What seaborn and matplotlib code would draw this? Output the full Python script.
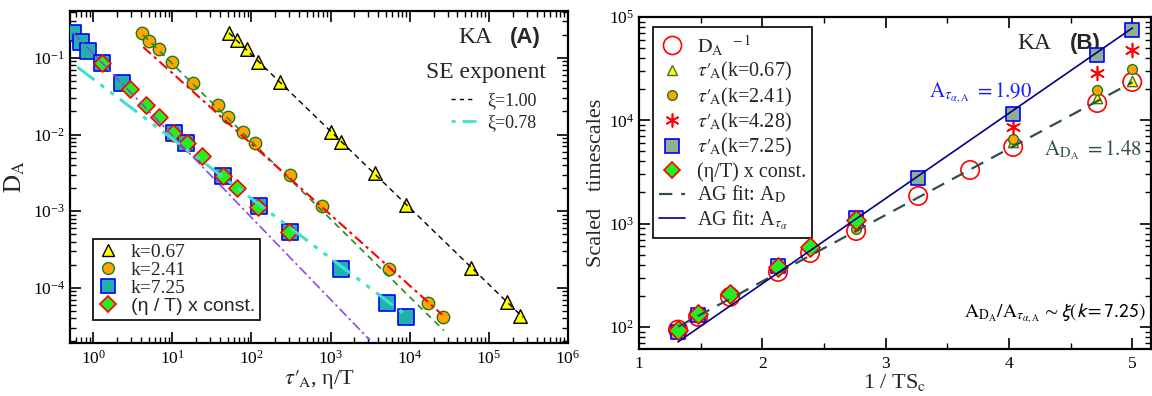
import numpy as np
import pandas as pd
import matplotlib
matplotlib.use("Agg")
import matplotlib.pyplot as plt
import seaborn as sns
from matplotlib.lines import Line2D
from matplotlib.ticker import LogLocator, MultipleLocator, NullFormatter

# ---------------- data: panel A ----------------
tri_x = [52, 65.8, 88, 121, 230, 1012, 1353, 3637, 8960, 59300, 168700, 246000]
tri_y = [0.212, 0.172, 0.131, 0.0887, 0.0487, 0.0108, 0.00803, 0.00317, 0.00121, 1.83e-4, 6.6e-5, 4.3e-5]

circ_x = [4.16, 5.1, 6.8, 9.9, 18.3, 37.9, 50.7, 78.4, 111, 307, 779, 5460, 17000, 26200]
circ_y = [0.212, 0.167, 0.131, 0.0887, 0.0472, 0.0244, 0.017, 0.0108, 0.0078, 0.00299, 0.00117, 1.77e-4, 6.4e-5, 4.2e-5]

sq_x = [0.56, 0.70, 0.865, 1.30, 2.32, 10.5, 14.9, 43.8, 125, 307, 1353, 5150, 8960]
sq_y = [0.212, 0.162, 0.123, 0.086, 0.0472, 0.0105, 0.0078, 0.0029, 0.00117, 5.4e-4, 1.77e-4, 6.4e-5, 4.2e-5]

dia_x = [1.30, 2.93, 4.67, 6.8, 10.2, 15.4, 23.8, 43.8, 65.8, 121, 298]
dia_y = [0.086, 0.0394, 0.0244, 0.017, 0.0105, 0.0078, 0.00527, 0.0029, 0.00202, 0.00114, 5.4e-4]

# power-law guide lines: (log10 prefactor, exponent, xmin, xmax)
fit_black = (1.043, -1.0, 52, 2.69e5)
fit_green = (-0.060, -1.015, 4.28, 2.7e4)
fit_red = (-0.273, -0.925, 4.28, 2.55e4)
fit_purple = (-0.943, -1.07, 0.56, 3140)
fit_cyan = (-1.275, -0.78, 0.63, 8700)

# ---------------- data: panel B ----------------
inv_x = [1.316, 1.479, 1.738, 2.127, 2.387, 2.760, 3.263, 3.684, 4.033, 4.714, 4.998]
dinv_y = [94, 125, 195, 340, 519, 847, 1850, 3300, 5520, 14700, 23500]

k067_x = [4.033, 4.714, 4.998]
k067_y = [6170, 16400, 24000]
k241_x = [2.760, 4.033, 4.714, 4.998]
k241_y = [880, 6590, 19600, 31400]
k428_x = [4.033, 4.714, 4.998]
k428_y = [8610, 28700, 48000]
k725_x = [1.316, 1.479, 2.127, 2.760, 3.263, 4.033, 4.714, 4.998]
k725_y = [89, 130, 389, 1132, 2760, 11500, 42900, 74800]
eta_x = [1.316, 1.479, 1.738, 2.127, 2.387, 2.760]
eta_y = [93, 133, 208, 380, 593, 1084]

# AG fits: log10(y) = a + A/ln(10) * x
ag_D = (1.155, 1.48)
ag_tau = (0.768, 1.90)
ag_xrange = (1.316, 5.0)

# ---------------- style ----------------
sns.set_theme(style="ticks")
plt.rcParams.update({
    "font.family": ["Liberation Serif", "DejaVu Serif"],
    "mathtext.fontset": "stix",
    "axes.linewidth": 1.6,
    "axes.edgecolor": "black",
    "xtick.color": "black",
    "ytick.color": "black",
    "xtick.major.width": 1.2,
    "ytick.major.width": 1.2,
    "xtick.minor.width": 1.0,
    "ytick.minor.width": 1.0,
    "xtick.major.size": 8,
    "ytick.major.size": 8,
    "xtick.minor.size": 4,
    "ytick.minor.size": 4,
})

TAUP = r"$\tau′_{\!\mathrm{A}}$"

fig = plt.figure(figsize=(11.52, 3.96), dpi=100)
axA = fig.add_axes([0.0608, 0.1338, 0.4323, 0.8384])
axB = fig.add_axes([0.5547, 0.1187, 0.4444, 0.8384])


def guide(ax, p, color, ls, lw):
    logc, ex, x0, x1 = p
    xs = np.logspace(np.log10(x0), np.log10(x1), 50)
    ys = 10 ** logc * xs ** ex
    sns.lineplot(x=xs, y=ys, ax=ax, color=color, linestyle=ls, linewidth=lw,
                 estimator=None, sort=False, zorder=5)


# ---- panel A ----
ax = axA
ax.set_xscale("log")
ax.set_yscale("log")
sns.scatterplot(x=tri_x, y=tri_y, ax=ax, marker="^", s=95, color="#ffff00",
                edgecolor="black", linewidth=1.0, zorder=3)
sns.scatterplot(x=circ_x, y=circ_y, ax=ax, marker="o", s=80, color="#ffa500",
                edgecolor="#1f7a1f", linewidth=1.0, zorder=3)
sns.scatterplot(x=sq_x, y=sq_y, ax=ax, marker="s", s=120, color="#20b2aa",
                edgecolor="#0000ff", linewidth=1.2, zorder=3)
sns.scatterplot(x=dia_x, y=dia_y, ax=ax, marker="D", s=75, color="#22ee22",
                edgecolor="#ff0000", linewidth=1.2, zorder=4)

guide(ax, fit_black, "black", (0, (4, 3)), 1.0)
guide(ax, fit_green, "#228b22", (0, (4, 3)), 1.2)
guide(ax, fit_red, "#ff0000", (0, (5, 2, 1.5, 2)), 1.5)
guide(ax, fit_purple, "#8a4be2", (0, (6, 2, 1.5, 2)), 1.2)
guide(ax, fit_cyan, "#40e0d0", (0, (7, 2.5, 1.5, 2.5, 1.5, 2.5)), 2.2)

ax.set_xlim(0.51, 1e6)
ax.set_ylim(1.9e-5, 0.41)
ax.xaxis.set_major_locator(LogLocator(base=10, numticks=20))
ax.xaxis.set_minor_locator(LogLocator(base=10, subs=np.arange(2, 10), numticks=20))
ax.yaxis.set_major_locator(LogLocator(base=10, numticks=20))
ax.yaxis.set_minor_locator(LogLocator(base=10, subs=np.arange(2, 10), numticks=20))
ax.xaxis.set_minor_formatter(NullFormatter())
ax.yaxis.set_minor_formatter(NullFormatter())
ax.tick_params(which="both", direction="in", top=True, right=True, labelsize=12.5)
ax.tick_params(axis="x", pad=5)
ax.set_xlabel(TAUP + ", η/T", fontsize=16, labelpad=0)
ax.set_ylabel(r"$\mathrm{D_A}$", fontsize=18, labelpad=4)

legA = [
    Line2D([], [], ls="none", marker="^", ms=9, mfc="#ffff00", mec="black", label="k=0.67"),
    Line2D([], [], ls="none", marker="o", ms=8.5, mfc="#ffa500", mec="#1f7a1f", label="k=2.41"),
    Line2D([], [], ls="none", marker="s", ms=10, mfc="#20b2aa", mec="#0000ff", mew=1.2, label="k=7.25"),
    Line2D([], [], ls="none", marker="D", ms=8.5, mfc="#22ee22", mec="#ff0000", mew=1.2, label="(η / T) x const."),
]
lg1 = ax.legend(handles=legA, loc="lower left", bbox_to_anchor=(0.046, 0.069),
                borderaxespad=0, frameon=True, fancybox=False, edgecolor="black",
                framealpha=1, fontsize=14, labelspacing=0.02, handlelength=1.0,
                handletextpad=0.7, borderpad=0.25)
lg1.get_frame().set_linewidth(1.2)
for t in lg1.get_texts():
    if "const" in t.get_text():
        t.set_fontfamily("Liberation Sans")
ax.add_artist(lg1)

legSE = [
    Line2D([], [], color="black", ls=(0, (3, 3)), lw=1.0, label="ξ=1.00"),
    Line2D([], [], color="#40e0d0", ls=(0, (1.5, 2.5, 6, 2)), lw=2.0, label="ξ=0.78"),
]
lg2 = ax.legend(handles=legSE, loc="upper left", bbox_to_anchor=(0.765, 0.755),
                borderaxespad=0, frameon=False, fontsize=13, handlelength=1.4,
                handletextpad=0.6, labelspacing=0.25, borderpad=0)

ax.text(0.779, 0.904, "KA", transform=ax.transAxes, fontsize=17, va="baseline")
ax.text(0.884, 0.904, "(A)", transform=ax.transAxes, fontsize=16, va="baseline",
        fontfamily="Liberation Sans", fontweight="bold")
ax.text(0.715, 0.798, "SE exponent", transform=ax.transAxes, fontsize=17, va="baseline")

# ---- panel B ----
ax = axB
ax.set_yscale("log")
sns.scatterplot(x=inv_x, y=dinv_y, ax=ax, marker="o", s=175, facecolor="none",
                edgecolor="#ff0000", linewidth=1.2, zorder=3)
sns.scatterplot(x=k067_x, y=k067_y, ax=ax, marker="^", s=55, color="#ffff00",
                edgecolor="#556b2f", linewidth=1.0, zorder=4)
sns.scatterplot(x=k241_x, y=k241_y, ax=ax, marker="o", s=50, color="#ffa500",
                edgecolor="#1f7a1f", linewidth=1.0, zorder=4)
sns.scatterplot(x=k428_x, y=k428_y, ax=ax, marker=(6, 2, 0), s=100, color="#ff0000",
                edgecolor="#ff0000", linewidth=1.2, zorder=4)
sns.scatterplot(x=k725_x, y=k725_y, ax=ax, marker="s", s=95, color="#8fb08f",
                edgecolor="#0000ff", linewidth=1.2, zorder=5)
sns.scatterplot(x=eta_x, y=eta_y, ax=ax, marker="D", s=95, color="#22ee22",
                edgecolor="#ff0000", linewidth=1.2, zorder=6)

xs = np.linspace(ag_xrange[0], ag_xrange[1], 50)
sns.lineplot(x=xs, y=10 ** (ag_D[0] + ag_D[1] / np.log(10) * xs), ax=ax,
             color="#2f4f4f", linestyle=(0, (6, 4)), linewidth=1.6, estimator=None, zorder=7)
sns.lineplot(x=xs, y=10 ** (ag_tau[0] + ag_tau[1] / np.log(10) * xs), ax=ax,
             color="#00008b", linestyle="-", linewidth=1.2, estimator=None, zorder=7)

ax.set_xlim(1, 5.15)
ax.set_ylim(61, 1e5)
ax.xaxis.set_major_locator(MultipleLocator(1))
ax.xaxis.set_minor_locator(MultipleLocator(0.5))
ax.yaxis.set_major_locator(LogLocator(base=10, numticks=20))
ax.yaxis.set_minor_locator(LogLocator(base=10, subs=np.arange(2, 10), numticks=20))
ax.yaxis.set_minor_formatter(NullFormatter())
ax.tick_params(which="both", direction="in", top=True, right=True, labelsize=12.5)
ax.tick_params(axis="x", pad=5)
ax.set_xlabel(r"1 / TS$_\mathrm{c}$", fontsize=16, labelpad=0)
ax.set_ylabel("Scaled   timescales", fontsize=16, labelpad=2)

legB = [
    Line2D([], [], ls="none", marker="o", ms=13, mfc="none", mec="#ff0000", mew=1.2,
           label=r"$\mathrm{D_A}^{\ \ -1}$"),
    Line2D([], [], ls="none", marker="^", ms=7.5, mfc="#ffff00", mec="#556b2f",
           label=TAUP + "(k=0.67)"),
    Line2D([], [], ls="none", marker="o", ms=7, mfc="#ffa500", mec="#1f7a1f",
           label=TAUP + "(k=2.41)"),
    Line2D([], [], ls="none", marker=(6, 2, 0), ms=10, mfc="#ff0000", mec="#ff0000", mew=1.2,
           label=TAUP + "(k=4.28)"),
    Line2D([], [], ls="none", marker="s", ms=9.5, mfc="#8fb08f", mec="#0000ff", mew=1.2,
           label=TAUP + "(k=7.25)"),
    Line2D([], [], ls="none", marker="D", ms=8.5, mfc="#22ee22", mec="#ff0000", mew=1.2,
           label="(η/T) x const."),
    Line2D([], [], color="#2f4f4f", ls=(0, (6, 4)), lw=1.6, label=r"AG fit: A$_\mathrm{D}$"),
    Line2D([], [], color="#00008b", ls="-", lw=1.2, label=r"AG fit: A$_{\tau_\alpha}$"),
]
lgB = ax.legend(handles=legB, loc="upper left", bbox_to_anchor=(0.027, 0.970),
                borderaxespad=0, frameon=True, fancybox=False, edgecolor="black",
                framealpha=1, fontsize=14.5, labelspacing=0.12, handlelength=1.3,
                handletextpad=0.6, borderpad=0.3)
lgB.get_frame().set_linewidth(1.2)

ax.text(0.740, 0.905, "KA", transform=ax.transAxes, fontsize=17, va="baseline")
ax.text(0.842, 0.905, "(B)", transform=ax.transAxes, fontsize=16, va="baseline",
        fontfamily="Liberation Sans", fontweight="bold")
ax.text(0.768, 0.759, r"$\mathrm{A}_{\tau_{\alpha,\mathrm{A}}}\ \mathrm{=1.90}$",
        transform=ax.transAxes, fontsize=15, va="baseline", ha="right", color="#1a1aff")
ax.text(0.982, 0.584, r"$\mathrm{A}_{\mathrm{D_A}}\ \mathrm{=1.48}$",
        transform=ax.transAxes, fontsize=15, va="baseline", ha="right", color="#2f4f4f")
ax.text(0.990, 0.093,
        r"$\mathrm{A}_{\mathrm{D_A}}/\mathrm{A}_{\tau_{\alpha,\mathrm{A}}}\,\mathsf{\sim\xi(k{=}7.25)}$",
        transform=ax.transAxes, fontsize=14, va="baseline", ha="right", color="black")

fig.savefig("out.png", dpi=100)
